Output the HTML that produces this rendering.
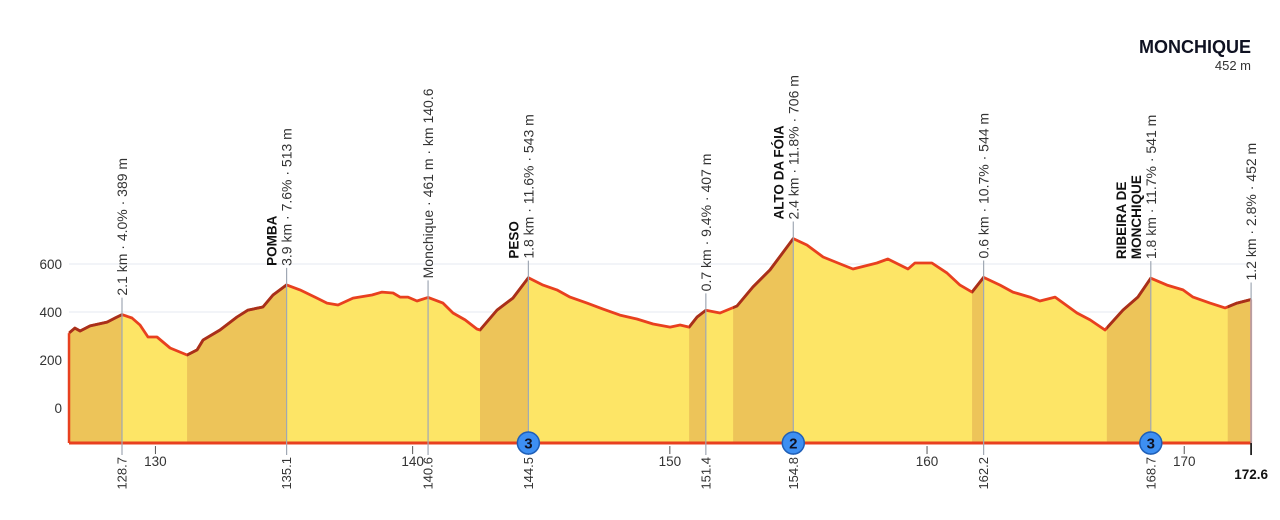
<!DOCTYPE html>
<html><head><meta charset="utf-8"><style>
html,body{margin:0;padding:0;background:#fff;}
svg{display:block;font-family:"Liberation Sans",sans-serif;}
</style></head><body>
<svg id="chart" width="1280" height="520" viewBox="0 0 1280 520" xmlns="http://www.w3.org/2000/svg">
<text x="1251" y="53" text-anchor="end" font-size="18" font-weight="bold" fill="#0f1222">MONCHIQUE</text>
<text x="1251" y="70" text-anchor="end" font-size="13" fill="#333">452 m</text>
</svg>
<script>
const distKm = [126.64,126.87,127.07,127.46,128.12,128.43,128.7,129.09,129.4,129.71,130.06,130.57,131.23,131.62,131.85,132.51,133.17,133.6,134.18,134.57,135.1,135.62,136.28,136.67,137.1,137.68,138.42,138.81,139.24,139.51,139.82,140.17,140.6,141.18,141.57,142.04,142.5,142.62,143.28,143.9,144.5,145.07,145.61,146.12,146.78,147.4,148.06,148.72,149.35,150.01,150.4,150.75,151.06,151.4,151.95,152.61,153.23,153.89,154.8,155.33,155.96,156.73,157.12,158.05,158.48,159.26,159.53,160.19,160.78,161.28,161.75,162.2,162.84,163.34,164.0,164.39,164.98,165.83,166.34,166.92,167.62,168.2,168.7,169.33,169.95,170.34,171.0,171.59,172.05,172.6];
const altM = [312,333,321,342,358,375,389,375,346,296,296,250,221,242,283,325,379,408,421,471,513,492,458,437,429,458,471,483,479,462,462,446,461,437,396,367,329,325,408,458,543,512,492,462,437,412,387,371,350,337,346,337,379,407,396,425,504,575,706,679,629,596,579,604,621,579,604,604,562,512,483,544,512,483,462,446,462,396,367,325,408,462,541,512,492,462,437,417,437,452];
const climbStart = [126.64,131.23,142.62,150.75,152.46,161.75,166.99,171.69];
const climbEnd   = [128.7,135.1,144.5,151.4,154.8,162.2,168.7,172.6];
const yTicks = [0,200,400,600];
const xTicks = [130,140,150,160,170];
const markerKm = [128.7,135.1,140.6,144.5,151.4,154.8,162.2,168.7,172.6];
const markerAlt = [389,513,461,543,407,706,544,541,452];
const markerText = ["2.1 km · 4.0% · 389 m","3.9 km · 7.6% · 513 m","Monchique · 461 m · km 140.6","1.8 km · 11.6% · 543 m","0.7 km · 9.4% · 407 m","2.4 km · 11.8% · 706 m","0.6 km · 10.7% · 544 m","1.8 km · 11.7% · 541 m","1.2 km · 2.8% · 452 m"];
const markerName = ["","POMBA","","PESO","","ALTO DA FÓIA","","RIBEIRA DE|MONCHIQUE",""];
const badgeKm = [144.5,154.8,168.7];
const badgeCat = ["3","2","3"];

const NS="http://www.w3.org/2000/svg";
const svg=document.getElementById('chart');
const X=k=>122+(k-128.7)*25.72;
const Y=a=>408-a*0.24;
const baseAlt=-146, yBase=Y(baseAlt);
const x0=X(distKm[0]), x1=X(distKm[distKm.length-1]);
function el(t,a,p){const e=document.createElementNS(NS,t);for(const k in a)e.setAttribute(k,a[k]);(p||svg).appendChild(e);return e;}

yTicks.forEach(v=>{
  const g=el('line',{x1:x0,x2:x1,y1:Y(v),y2:Y(v),stroke:'#eef1f5','stroke-width':1.5});
  
  
  const t=el('text',{x:62,y:Y(v)+5,'text-anchor':'end','font-size':13.5,fill:'#333'});
  t.textContent=v;
  
  
});

let d='M'+x0+','+yBase;
distKm.forEach((k,i)=>{d+=' L'+X(k).toFixed(1)+','+Y(altM[i]).toFixed(1);});
d+=' L'+x1+','+yBase+' Z';
const area=el('path',{d:d,fill:'#fde566'});



const defs=el('defs',{});
const clip=el('clipPath',{id:'climbclip'},defs);
climbStart.forEach((s,i)=>{
  el('rect',{x:X(s),y:0,width:X(climbEnd[i])-X(s),height:520},clip);
});
const area2=el('path',{d:d,fill:'#edc459','clip-path':'url(#climbclip)'});



let ld='';
distKm.forEach((k,i)=>{ld+=(i?' L':'M')+X(k).toFixed(1)+','+Y(altM[i]).toFixed(1);});
const line=el('path',{d:ld,fill:'none',stroke:'#e8401f','stroke-width':2.8,'stroke-linejoin':'round'});


const line2=el('path',{d:ld,fill:'none',stroke:'#a8301a','stroke-width':2.8,'stroke-linejoin':'round','clip-path':'url(#climbclip)'});


const lEdge=el('line',{x1:x0,x2:x0,y1:Y(altM[0]),y2:yBase,stroke:'#e8401f','stroke-width':2.5});


const rEdge=el('line',{x1:x1,x2:x1,y1:Y(altM[altM.length-1]),y2:yBase,stroke:'#f08a7a','stroke-width':2});


const base=el('line',{x1:x0,x2:x1,y1:yBase,y2:yBase,stroke:'#e8401f','stroke-width':3});



xTicks.forEach(v=>{
  const tk=el('line',{x1:X(v),x2:X(v),y1:yBase+3,y2:yBase+11,stroke:'#555','stroke-width':1});
  
  
  const t=el('text',{x:X(v),y:466,'text-anchor':'middle','font-size':13.5,fill:'#333'});
  t.textContent=v;
  
  
});

markerKm.forEach((k,i)=>{
  const x=X(k), top=Y(markerAlt[i])-17;
  const last=i===markerKm.length-1;
  const ml=el('line',{x1:x,x2:x,y1:top,y2:yBase+12,stroke:'#a0a8b4','stroke-width':1.2});
  
  
  if(last){
    const ft=el('line',{x1:x,x2:x,y1:yBase,y2:yBase+12,stroke:'#222','stroke-width':1.8});
    
    
  }
  const t=el('text',{x:0,y:0,'font-size':14,fill:'#333','text-anchor':'start',transform:`translate(${x+5},${top-2}) rotate(-90)`});
  t.textContent=markerText[i];
  
  
  if(markerName[i]){
    const parts=markerName[i].split('|');
    parts.forEach((p,j)=>{
      const off=(parts.length-j)*15;
      const n=el('text',{x:0,y:0,'font-size':13.5,'font-weight':'bold',fill:'#111','text-anchor':'start',transform:`translate(${x+5-off},${top-2}) rotate(-90)`});
      n.textContent=p;
      
      
    });
  }
  if(!last){
    const b=el('text',{x:0,y:0,'font-size':13,fill:'#333','text-anchor':'end',transform:`translate(${x+4.5},${457}) rotate(-90)`});
    b.textContent=k.toFixed(1);
    
    
  } else {
    const b=el('text',{x:x,y:479,'font-size':13.5,'font-weight':'bold',fill:'#111','text-anchor':'middle'});
    b.textContent=k.toFixed(1);
    
    
  }
});

badgeKm.forEach((k,i)=>{
  const c=el('circle',{cx:X(k),cy:yBase,r:11,fill:'#3d8ff2',stroke:'#1f5fb8','stroke-width':1.5});
  
  
  const t=el('text',{x:X(k),y:yBase+5.5,'text-anchor':'middle','font-size':15,'font-weight':'bold',fill:'#0f1222'});
  t.textContent=badgeCat[i];
  
  
});
</script>
</body></html>
